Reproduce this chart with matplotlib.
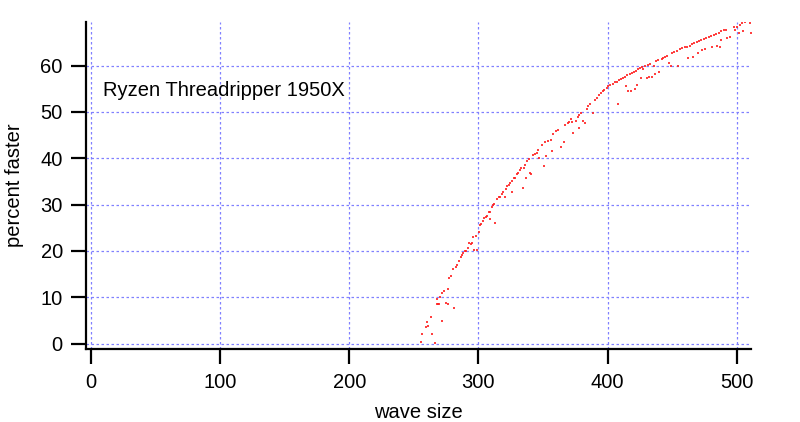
import matplotlib
matplotlib.use('Agg')
import matplotlib.pyplot as plt

# wave size vs percent faster
wave = [255.6, 256.0, 259.2, 260.2, 261.3, 263.4, 264.4, 266.5, 267.7, 268.2,
        268.7, 269.7, 270.5, 271.6, 272.1, 273.6, 274.7, 276.2, 276.4, 277.3,
        278.6, 280.1, 281.2, 282.5, 283.7, 285.3, 286.6, 287.4, 288.4, 289.7,
        290.5, 291.8, 293.0, 294.0, 294.9, 296.1, 296.7, 298.2, 298.7, 300.5,
        301.3, 302.3, 303.4, 304.6, 305.7, 306.7, 308.0, 309.0, 309.3, 310.3,
        311.6, 312.4, 313.2, 314.2, 315.7, 316.8, 318.3, 319.4, 320.4, 321.4,
        322.4, 323.5, 324.5, 325.8, 326.3, 327.4, 328.4, 329.7, 331.0, 332.3,
        333.3, 334.4, 335.1, 336.2, 337.0, 337.9, 339.3, 340.0, 341.0, 342.6,
        344.0, 345.2, 346.5, 347.2, 349.0, 351.1, 351.7, 352.2, 353.8, 356.1,
        356.8, 358.1, 360.2, 362.0, 364.0, 365.9, 367.2, 369.0, 369.8, 371.8,
        372.3, 373.6, 375.7, 376.9, 377.6, 378.2, 379.3, 381.3, 382.6, 383.9,
        385.1, 386.5, 388.6, 389.9, 391.7, 393.5, 395.0, 396.4, 397.6, 399.4,
        400.7, 402.0, 404.0, 405.8, 407.2, 408.4, 409.0, 410.5, 411.8, 413.6,
        413.9, 415.4, 416.2, 417.5, 418.0, 418.8, 420.6, 421.4, 422.2, 423.0,
        423.7, 425.2, 425.7, 426.6, 427.3, 428.8, 430.3, 431.6, 432.3, 433.0,
        434.2, 435.6, 436.8, 437.6, 439.4, 440.1, 442.0, 443.2, 444.6, 445.9,
        447.2, 449.0, 449.8, 451.6, 453.7, 454.4, 455.7, 457.8, 459.6, 461.4,
        462.0, 463.5, 465.3, 465.8, 467.1, 469.2, 469.9, 470.7, 472.3, 473.0,
        474.3, 475.6, 476.1, 478.2, 480.0, 480.8, 482.1, 484.2, 484.8, 486.2,
        487.3, 488.1, 488.2, 489.8, 491.4, 492.4, 495.0, 497.5, 498.3, 500.1,
        501.4, 502.2, 504.0, 504.8, 506.6, 507.9, 509.1, 509.9, 511.2]
faster = [0.4, 2.2, 3.5, 4.6, 3.8, 5.8, 2.2, 0.2, 8.6, 9.6,
          8.6, 8.6, 10.1, 11.0, 5.0, 11.4, 8.7, 11.8, 8.6, 14.1,
          14.6, 16.1, 7.6, 16.5, 17.0, 17.9, 18.6, 19.1, 19.5, 20.1,
          20.1, 20.6, 21.7, 21.5, 21.8, 23.1, 20.2, 23.2, 20.2, 24.2,
          25.6, 25.8, 26.4, 27.1, 27.4, 27.6, 28.3, 28.4, 26.9, 29.4,
          29.9, 30.1, 26.1, 31.2, 31.6, 31.7, 32.3, 32.7, 31.6, 33.3,
          34.0, 34.3, 34.6, 35.0, 32.7, 35.7, 35.8, 36.6, 36.9, 37.5,
          37.8, 33.5, 37.9, 38.6, 35.7, 39.3, 39.8, 36.9, 36.6, 40.7,
          40.9, 41.2, 41.7, 40.0, 42.9, 38.4, 43.6, 40.5, 43.7, 44.0,
          41.6, 45.2, 45.8, 46.0, 42.4, 43.4, 47.2, 47.7, 47.8, 48.5,
          47.9, 45.4, 48.1, 48.8, 46.5, 49.4, 49.7, 48.1, 47.6, 50.6,
          51.2, 51.8, 49.7, 52.6, 53.1, 53.6, 54.0, 54.4, 54.7, 55.1,
          55.5, 55.7, 56.1, 56.4, 56.5, 51.7, 56.8, 57.0, 57.3, 57.6,
          55.5, 57.9, 54.4, 58.1, 54.5, 58.4, 58.7, 55.0, 58.9, 55.7,
          59.2, 59.5, 57.3, 59.7, 59.3, 59.9, 57.3, 60.2, 57.6, 60.3,
          57.6, 59.8, 58.2, 60.9, 61.1, 58.6, 61.4, 61.7, 61.9, 62.1,
          60.5, 59.8, 62.6, 63.0, 63.2, 59.9, 63.5, 63.8, 64.0, 64.1,
          61.6, 64.3, 64.6, 61.9, 64.8, 65.1, 62.7, 65.2, 65.5, 63.4,
          65.7, 63.6, 65.9, 66.2, 66.3, 64.1, 66.5, 66.8, 64.3, 67.1,
          64.1, 65.6, 67.4, 67.6, 67.7, 65.9, 66.1, 68.3, 67.7, 68.4,
          67.0, 68.8, 69.2, 67.5, 69.3, 69.5, 69.5, 69.2, 67.0]

plt.rcParams['font.family'] = ['Liberation Sans', 'DejaVu Sans']

fig = plt.figure(figsize=(8, 4.22), dpi=100)
ax = fig.add_axes([0.108, 0.173, 0.831, 0.775])

ax.plot(wave, faster, linestyle='none', marker='s', markersize=1.6,
        markeredgewidth=0, color='#ff2020', alpha=0.85)

ax.set_xlim(-3.5, 511.2)
ax.set_ylim(-1.14, 69.4)
ax.set_xticks([0, 100, 200, 300, 400, 500])
ax.set_yticks([0, 10, 20, 30, 40, 50, 60])

ax.grid(True, color='#8080ff', linestyle=(0, (2, 2)), linewidth=0.9)
ax.set_axisbelow(True)

for s in ['top', 'right']:
    ax.spines[s].set_visible(False)
for s in ['left', 'bottom']:
    ax.spines[s].set_linewidth(1.6)
ax.tick_params(direction='out', length=11, width=1.6, labelsize=14.5, pad=6)

ax.set_xlabel('wave size', fontsize=14.5, labelpad=8)
ax.set_ylabel('percent faster', fontsize=14.5, labelpad=12)
ax.text(9, 54.6, 'Ryzen Threadripper 1950X', fontsize=14.5, va='center')

plt.savefig('out.png', dpi=100)
